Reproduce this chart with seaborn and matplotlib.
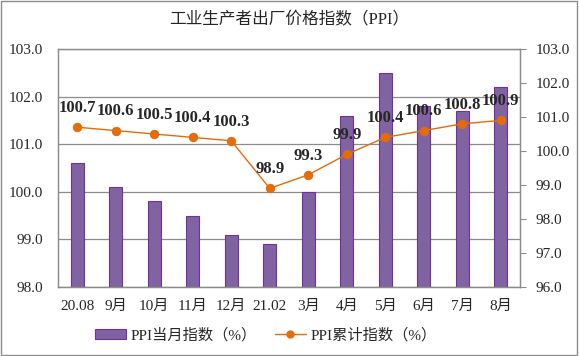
import numpy as np
import pandas as pd
import matplotlib
matplotlib.use("Agg")
import matplotlib.pyplot as plt
import seaborn as sns
from matplotlib.patches import Rectangle
from matplotlib.lines import Line2D

meses = ["20.08", "9月", "10月", "11月", "12月", "21.02", "3月", "4月", "5月", "6月", "7月", "8月"]
ppi_mes = [100.6, 100.1, 99.8, 99.5, 99.1, 98.9, 100.0, 101.6, 102.5, 101.8, 101.7, 102.2]
ppi_acum = [100.7, 100.6, 100.5, 100.4, 100.3, 98.9, 99.3, 99.9, 100.4, 100.6, 100.8, 100.9]

sns.set_style("white")
plt.rcParams['font.family'] = ['Liberation Serif', 'Noto Sans CJK SC', 'DejaVu Sans']

roxo = "#8064A2"
borda = "#7030A0"
laranja = "#E46C0A"

dados = pd.DataFrame({"MES": meses, "MES_IDX": np.arange(len(meses)), "PPI": ppi_mes, "ACUM": ppi_acum})

fig = plt.figure(figsize=(5.79, 3.56), dpi=100)
ax = fig.add_axes([58 / 579, 1 - 287 / 356, (520 - 58) / 579, (287 - 49) / 356])

# barras - indice do mes
sns.barplot(data=dados, x="MES", y="PPI", color=roxo, width=0.34, ax=ax,
            edgecolor=borda, linewidth=0.8, saturation=1)
for b in ax.patches:
    # barras partem do fundo do eixo
    b.set_y(98.0)
    b.set_height(b.get_height() - 98.0)
ax.set_ylim(98, 103)
ax.set_yticks(np.arange(98, 103.01, 1))
ax.set_yticklabels([f"{v:.1f}" for v in np.arange(98, 103.01, 1)], fontsize=11)
ax.yaxis.grid(True, color="#8c8c8c", linewidth=0.9)
ax.set_axisbelow(True)
ax.set_xlabel("")
ax.set_ylabel("")
ax.set_xlim(-0.5, len(meses) - 0.5)
ax.set_xticks(np.arange(len(meses)))
ax.set_xticklabels(meses, fontsize=11)
ax.tick_params(axis="x", length=0, pad=9)
ax.tick_params(axis="y", length=0, pad=11)
# marcas entre categorias
ax.set_xticks(np.arange(len(meses) + 1) - 0.5, minor=True)
ax.tick_params(axis="x", which="minor", length=4, color="#8c8c8c", direction="in")
for s in ax.spines.values():
    s.set_color("#8c8c8c")
    s.set_linewidth(0.9)

# linha - indice acumulado
ax2 = ax.twinx()
sns.lineplot(data=dados, x="MES_IDX", y="ACUM", color=laranja, marker="o", markersize=6,
             markeredgecolor=laranja, linewidth=1.0, ax=ax2)
ax2.set_ylim(96, 103)
ax2.set_yticks(np.arange(96, 103.01, 1))
ax2.set_yticklabels([f"{v:.1f}" for v in np.arange(96, 103.01, 1)], fontsize=11)
ax2.tick_params(axis="y", length=4, color="#8c8c8c", pad=7)
ax2.set_ylabel("")
ax2.set_xlabel("")
ax2.set_xlim(-0.5, len(meses) - 0.5)
for s in ax2.spines.values():
    s.set_color("#8c8c8c")
    s.set_linewidth(0.9)

for i, v in enumerate(ppi_acum):
    ax2.annotate(f"{v:.1f}", (i, v), xytext=(0, 8), textcoords="offset points",
                 ha="center", va="bottom", fontsize=12, fontweight="bold")

fig.text(0.5, 1 - 20 / 356, "工业生产者出厂价格指数（PPI）", ha="center", va="center", fontsize=12)

handles = [Rectangle((0, 0), 1, 1, facecolor=roxo, edgecolor=borda, linewidth=0.8),
           Line2D([], [], color=laranja, marker="o", markersize=5, linewidth=1.0)]
fig.legend(handles, ["PPI当月指数（%）", "PPI累计指数（%）"], loc="center",
           bbox_to_anchor=(266 / 579, 1 - 335 / 356), ncol=2, frameon=False, fontsize=11,
           handlelength=2.0, handleheight=0.6, columnspacing=1.2, handletextpad=0.3)

fig.patches.append(Rectangle((0.002, 0.003), 0.995, 0.994, transform=fig.transFigure,
                             fill=False, edgecolor="#8c8c8c", linewidth=1.0))

fig.savefig("out.png", dpi=100)
